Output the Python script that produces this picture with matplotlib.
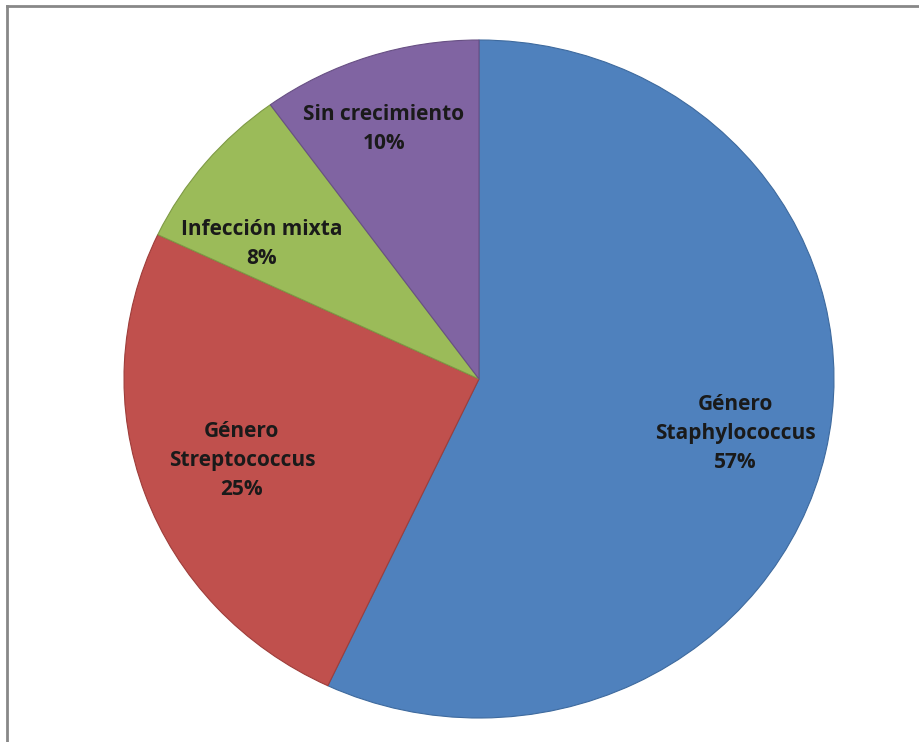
import matplotlib
matplotlib.use("Agg")
import matplotlib.pyplot as plt
import numpy as np
from matplotlib.lines import Line2D

categories = ["Género\nStaphylococcus", "Género\nStreptococcus", "Infección mixta", "Sin crecimiento"]
values = [57, 25, 8, 10]
colors = ["#4F81BD", "#C0504D", "#9BBB59", "#8064A2"]
edges = ["#3E6A9E", "#9E3D3A", "#7E9A45", "#685084"]

# label placement style (radius fraction, angular shift in degrees)
label_dist = [0.74, 0.71, 0.73, 0.785]
label_shift = [0.0, 0.0, 6.5, 2.0]

fig = plt.figure(figsize=(9.19, 7.42), dpi=100)
ax = fig.add_axes([124/919, 24/742, 710/919, 678/742])

labels = [f"{c}\n{v}%" for c, v in zip(categories, values)]
wedges, texts = ax.pie(values, labels=labels, colors=colors, startangle=90,
                       counterclock=False, labeldistance=0.74, radius=1.0,
                       wedgeprops=dict(linewidth=0.8))
for w, ec, t, d, s in zip(wedges, edges, texts, label_dist, label_shift):
    w.set_edgecolor(ec)
    mid = np.deg2rad((w.theta1 + w.theta2) / 2 + s)
    t.set_position((d * np.cos(mid), d * np.sin(mid)))
    t.set_ha("center")
    t.set_va("center")
    t.set_fontfamily("Open Sans")
    t.set_fontweight("bold")
    t.set_fontsize(15)
    t.set_color("#1a1a1a")
    t.set_linespacing(1.5)
ax.set_aspect("auto")
ax.set_xlim(-1, 1)
ax.set_ylim(-1, 1)
ax.axis("off")

# frame (top and left edges of the chart area)
fig.add_artist(Line2D([7/919, 7/919], [0, 1 - 6/742], transform=fig.transFigure,
                      color="#888888", linewidth=2))
fig.add_artist(Line2D([7/919, 1], [1 - 6/742, 1 - 6/742], transform=fig.transFigure,
                      color="#888888", linewidth=2))

fig.savefig("out.png", dpi=100)
